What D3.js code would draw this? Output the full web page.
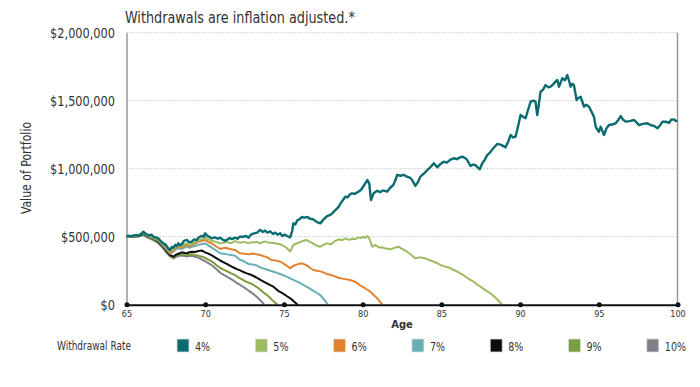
<!DOCTYPE html>
<html lang="en">
<head>
  <meta charset="UTF-8">
  <title>withdrawal rates</title>
  <script src="https://cdn.jsdelivr.net/npm/d3@7"></script>
  <style>
    body { margin: 0; background: #fff; }
    svg text { font-family: "DejaVu Sans Condensed", "DejaVu Sans", sans-serif; fill: #333; }
  </style>
</head>
<body>
  <svg id="chart"></svg>
<script>
  // portfolio values in $ thousands as [age, value]
  const rate4 = [[65,500],[65.11,507],[65.3,503],[65.45,510],[65.65,512],[65.8,505],[65.95,522],[66.07,537],[66.18,525],[66.29,518],[66.45,510],[66.6,515],[66.7,500],[66.85,495],[67.02,488],[67.15,470],[67.34,451],[67.5,440],[67.65,415],[67.77,402],[67.88,425],[67.98,419],[68.1,440],[68.2,432],[68.3,451],[68.4,438],[68.51,444],[68.65,470],[68.83,476],[69.0,458],[69.15,463],[69.3,480],[69.45,475],[69.57,493],[69.75,505],[69.9,500],[69.99,525],[70.1,510],[70.25,500],[70.42,488],[70.6,495],[70.8,485],[70.95,493],[71.1,480],[71.25,470],[71.37,476],[71.55,490],[71.7,482],[71.9,493],[72.05,485],[72.2,500],[72.43,500],[72.6,505],[72.75,493],[72.9,515],[73.1,525],[73.3,530],[73.49,550],[73.65,535],[73.8,545],[73.95,530],[74.13,540],[74.3,520],[74.45,530],[74.6,515],[74.76,525],[74.9,505],[75.05,515],[75.2,505],[75.4,495],[75.52,540],[75.6,598],[75.72,590],[75.85,620],[76.0,630],[76.15,645],[76.3,640],[76.5,645],[76.65,632],[76.87,628],[77.0,615],[77.15,605],[77.31,598],[77.5,625],[77.74,652],[77.95,660],[78.1,675],[78.27,696],[78.45,715],[78.6,745],[78.75,770],[78.9,794],[79.05,790],[79.2,812],[79.33,819],[79.5,815],[79.73,831],[79.9,845],[80.1,880],[80.3,917],[80.42,890],[80.53,770],[80.7,820],[80.92,838],[81.1,828],[81.3,840],[81.55,831],[81.75,860],[81.95,880],[82.1,920],[82.19,954],[82.4,948],[82.6,955],[82.82,941],[83.0,935],[83.14,917],[83.35,873],[83.5,900],[83.67,941],[83.9,965],[84.1,990],[84.3,1010],[84.52,1040],[84.74,1010],[84.95,1035],[85.15,1051],[85.35,1045],[85.55,1065],[85.79,1077],[86.0,1070],[86.15,1082],[86.32,1088],[86.5,1080],[86.64,1064],[86.85,1020],[87.0,1030],[87.17,1027],[87.3,1010],[87.44,996],[87.6,1040],[87.75,1065],[87.91,1100],[88.1,1120],[88.3,1150],[88.55,1182],[88.8,1175],[89.08,1157],[89.25,1200],[89.4,1248],[89.55,1230],[89.71,1235],[89.85,1300],[90.03,1395],[90.2,1380],[90.35,1371],[90.5,1430],[90.67,1493],[90.85,1500],[90.98,1493],[91.09,1395],[91.2,1480],[91.3,1566],[91.45,1580],[91.62,1615],[91.8,1598],[91.94,1603],[92.1,1620],[92.25,1640],[92.37,1652],[92.47,1603],[92.6,1640],[92.68,1665],[92.85,1650],[93.0,1689],[93.1,1650],[93.21,1603],[93.32,1625],[93.42,1615],[93.59,1505],[93.7,1520],[93.85,1529],[94.06,1456],[94.2,1470],[94.38,1456],[94.59,1407],[94.7,1380],[94.8,1309],[94.9,1290],[95.01,1272],[95.12,1309],[95.22,1280],[95.33,1248],[95.5,1300],[95.65,1321],[95.85,1325],[96.07,1334],[96.25,1360],[96.39,1387],[96.55,1360],[96.71,1346],[96.95,1350],[97.24,1358],[97.4,1340],[97.56,1321],[97.8,1330],[98.09,1334],[98.3,1320],[98.5,1315],[98.73,1297],[98.9,1320],[99.05,1346],[99.25,1345],[99.47,1338],[99.6,1360],[99.78,1363],[99.9,1350],[100,1353]];

  const rate5 = [[65,500],[65.3,503],[65.65,510],[66.07,530],[66.3,515],[66.5,505],[66.7,495],[67.0,482],[67.15,465],[67.34,445],[67.55,420],[67.77,390],[67.9,405],[68.0,410],[68.15,428],[68.3,435],[68.51,428],[68.7,445],[68.83,451],[69.0,440],[69.15,445],[69.35,460],[69.57,470],[69.8,482],[69.99,495],[70.2,480],[70.42,470],[70.7,462],[70.95,451],[71.2,458],[71.4,460],[71.65,452],[71.9,468],[72.05,460],[72.22,456],[72.5,462],[72.75,451],[72.95,460],[73.1,458],[73.3,462],[73.49,451],[73.65,460],[73.8,465],[74.0,458],[74.2,456],[74.4,452],[74.6,448],[74.8,442],[75.0,430],[75.2,415],[75.4,390],[75.59,439],[75.8,450],[76.0,460],[76.2,468],[76.4,476],[76.6,465],[76.8,455],[77.0,438],[77.15,432],[77.31,426],[77.5,440],[77.74,451],[78.0,445],[78.27,470],[78.5,480],[78.7,475],[78.9,488],[79.05,480],[79.2,478],[79.35,485],[79.5,481],[79.73,495],[79.9,490],[80.0,500],[80.12,492],[80.2,496],[80.3,505],[80.45,480],[80.6,426],[80.7,432],[80.8,440],[80.95,428],[81.12,419],[81.25,422],[81.4,415],[81.6,412],[81.76,407],[82.0,418],[82.15,422],[82.29,426],[82.5,410],[82.65,402],[82.82,390],[82.95,378],[83.1,365],[83.22,352],[83.35,341],[83.5,346],[83.7,348],[83.85,343],[83.99,341],[84.2,330],[84.41,321],[84.6,312],[84.75,305],[84.94,292],[85.2,282],[85.4,275],[85.58,268],[85.8,255],[86.0,244],[86.21,231],[86.4,218],[86.6,200],[86.85,182],[87.1,165],[87.3,146],[87.49,132],[87.7,115],[87.9,100],[88.12,84],[88.3,66],[88.5,45],[88.7,20],[88.86,0]];

  const rate6 = [[65,500],[65.3,502],[65.65,508],[66.07,528],[66.3,512],[66.5,502],[66.7,492],[67.0,478],[67.15,462],[67.34,440],[67.55,412],[67.77,380],[67.9,392],[68.0,400],[68.15,418],[68.3,425],[68.51,419],[68.7,432],[68.83,440],[69.0,430],[69.15,438],[69.35,450],[69.57,462],[69.8,470],[69.99,476],[70.2,462],[70.42,450],[70.7,428],[70.95,410],[71.2,418],[71.4,415],[71.65,408],[71.9,402],[72.05,390],[72.22,378],[72.5,375],[72.75,370],[73.0,376],[73.2,372],[73.49,365],[73.75,355],[74.0,345],[74.2,329],[74.4,326],[74.6,322],[74.8,316],[75.0,300],[75.2,285],[75.4,268],[75.55,282],[75.72,292],[75.95,300],[76.15,304],[76.35,295],[76.5,285],[76.7,268],[76.87,255],[77.1,250],[77.3,245],[77.5,238],[77.74,226],[78.0,218],[78.2,210],[78.4,200],[78.6,194],[78.9,188],[79.2,182],[79.35,176],[79.5,170],[79.7,155],[79.85,140],[80.0,132],[80.1,125],[80.3,110],[80.48,96],[80.7,72],[80.9,50],[81.05,30],[81.25,0]];

  const rate7 = [[65,500],[65.3,501],[65.65,506],[66.07,525],[66.3,508],[66.5,498],[66.7,488],[67.0,472],[67.15,455],[67.34,432],[67.55,405],[67.77,375],[67.9,384],[68.0,392],[68.15,410],[68.3,415],[68.51,410],[68.7,420],[68.83,428],[69.0,418],[69.15,425],[69.35,432],[69.57,440],[69.8,446],[69.99,451],[70.2,436],[70.42,420],[70.7,398],[70.95,378],[71.2,374],[71.4,370],[71.65,366],[71.9,360],[72.05,345],[72.2,330],[72.43,321],[72.6,310],[72.75,300],[73.0,296],[73.2,292],[73.4,280],[73.6,270],[73.8,262],[74.0,255],[74.2,248],[74.4,240],[74.6,232],[74.76,226],[75.0,215],[75.2,205],[75.4,194],[75.59,182],[75.8,172],[76.0,160],[76.2,148],[76.43,132],[76.65,118],[76.9,100],[77.1,86],[77.31,71],[77.45,52],[77.6,30],[77.8,0]];

  const rate8 = [[65,500],[65.3,500],[65.65,505],[66.07,520],[66.3,505],[66.5,495],[66.7,485],[67.0,465],[67.15,448],[67.34,425],[67.55,395],[67.77,365],[67.98,353],[68.15,368],[68.3,375],[68.51,385],[68.7,380],[68.83,378],[69.0,386],[69.15,390],[69.35,388],[69.57,395],[69.8,398],[69.99,385],[70.2,375],[70.42,362],[70.7,342],[70.95,325],[71.2,310],[71.4,298],[71.65,282],[71.9,268],[72.05,260],[72.22,252],[72.4,242],[72.6,232],[72.85,222],[73.07,211],[73.25,200],[73.4,190],[73.65,174],[73.92,157],[74.1,146],[74.3,135],[74.5,115],[74.65,100],[74.85,88],[75.0,78],[75.2,62],[75.4,47],[75.6,28],[75.87,0]];

  const rate9 = [[65,500],[65.3,498],[65.65,502],[66.07,515],[66.3,500],[66.5,490],[66.7,480],[67.0,460],[67.15,442],[67.34,420],[67.55,390],[67.77,360],[67.98,345],[68.15,358],[68.3,365],[68.51,370],[68.7,366],[68.83,362],[69.0,368],[69.15,372],[69.35,366],[69.57,360],[69.8,352],[69.99,345],[70.2,332],[70.42,318],[70.7,292],[70.95,270],[71.2,256],[71.4,245],[71.65,230],[71.9,218],[72.05,205],[72.22,194],[72.4,182],[72.6,170],[72.85,158],[73.07,145],[73.3,128],[73.5,110],[73.7,90],[73.92,71],[74.1,52],[74.25,35],[74.45,15],[74.6,0]];

  const rate10 = [[65,500],[65.3,497],[65.65,500],[66.07,512],[66.3,496],[66.5,486],[66.7,475],[67.0,455],[67.15,436],[67.34,412],[67.55,382],[67.77,353],[67.98,340],[68.15,352],[68.3,358],[68.51,362],[68.7,358],[68.83,355],[69.0,358],[69.15,360],[69.35,352],[69.57,345],[69.8,332],[69.99,320],[70.2,305],[70.42,290],[70.7,262],[70.95,235],[71.2,218],[71.4,205],[71.65,188],[71.9,169],[72.05,156],[72.22,145],[72.4,132],[72.55,120],[72.7,108],[72.85,96],[73.1,75],[73.3,55],[73.5,32],[73.75,0]];

  const seriesNames = ['4%', '5%', '6%', '7%', '8%', '9%', '10%'];
  const seriesData = [rate4, rate5, rate6, rate7, rate8, rate9, rate10];
  const colors = ['#0b6c6f', '#9dbb62', '#e2812f', '#6aaeb5', '#0d0d0d', '#7a9d3d', '#818087'];

  const yTicks = [0, 500000, 1000000, 1500000, 2000000];
  const xTicks = [65, 70, 75, 80, 85, 90, 95, 100];

  const width = 700, height = 387;
  const svg = d3.select('#chart').attr('width', width).attr('height', height);

  const x = d3.scaleLinear().domain([65, 100]).range([126.5, 677.5]);
  const y = d3.scaleLinear().domain([0, 2000000]).range([304.7, 32.7]);

  // narrow text: place at (px,py) and squeeze horizontally
  function narrowText(parent, px, py, sx, size, str) {
    return parent.append('g')
      .attr('transform', `translate(${px},${py}) scale(${sx},1)`)
      .append('text')
      .attr('font-size', size)
      .text(str);
  }

  // dotted gridlines
  svg.append('g')
    .selectAll('line')
    .data(yTicks.slice(1))
    .join('line')
    .attr('x1', x(65)).attr('x2', x(100))
    .attr('y1', d => y(d)).attr('y2', d => y(d))
    .attr('stroke', '#c8c8c8')
    .attr('stroke-width', 1)
    .attr('stroke-dasharray', '1.5,1.5');

  // left axis
  const yAxis = svg.append('g')
    .attr('transform', `translate(${x(65)},0)`)
    .call(d3.axisLeft(y).tickValues(yTicks).tickSize(0).tickPadding(0)
      .tickFormat(d => '$' + d3.format(',')(d)));
  yAxis.select('.domain').attr('stroke', '#9a9a9a').attr('stroke-width', 1.5);
  yAxis.selectAll('text')
    .attr('x', -11.5 / 0.87)
    .attr('dy', '0.36em')
    .attr('transform', 'scale(0.87,1)')
    .attr('font-size', 14.5)
    .attr('fill', '#333');

  // right border
  svg.append('line')
    .attr('x1', x(100)).attr('x2', x(100))
    .attr('y1', y(2000000)).attr('y2', y(0))
    .attr('stroke', '#9a9a9a')
    .attr('stroke-width', 1.5);

  // lines, 10% drawn first so 4% sits on top
  const line = d3.line()
    .x(d => x(d[0]))
    .y(d => y(d[1] * 1000));

  svg.append('g')
    .selectAll('path')
    .data(seriesData.map((d, i) => ({ d, i })).reverse())
    .join('path')
    .attr('d', s => line(s.d))
    .attr('fill', 'none')
    .attr('stroke', s => colors[s.i])
    .attr('stroke-width', s => s.i === 0 ? 2.4 : 2)
    .attr('stroke-linejoin', 'round');

  // bottom axis
  const xAxis = svg.append('g')
    .attr('transform', `translate(0,${y(0)})`)
    .call(d3.axisBottom(x).tickValues(xTicks).tickSize(0).tickPadding(6));
  xAxis.select('.domain').attr('stroke', '#111').attr('stroke-width', 2);
  xAxis.selectAll('text').attr('font-size', 9).attr('fill', '#444');
  xAxis.selectAll('.tick').append('circle')
    .attr('r', 2.5)
    .attr('fill', '#111');

  // titles
  narrowText(svg, 125, 23, 0.92, 15.5, 'Withdrawals are inflation adjusted.*');

  svg.append('g')
    .attr('transform', 'translate(31,168) rotate(-90) scale(0.9,1)')
    .append('text')
    .attr('text-anchor', 'middle')
    .attr('font-size', 13.5)
    .text('Value of Portfolio');

  svg.append('text')
    .attr('x', 402).attr('y', 328)
    .attr('text-anchor', 'middle')
    .attr('font-size', 10)
    .attr('font-weight', 'bold')
    .style('font-family', '"DejaVu Sans", sans-serif')
    .text('Age');

  // legend
  narrowText(svg, 57, 350, 0.8, 12.5, 'Withdrawal Rate');

  const legend = svg.append('g')
    .selectAll('g')
    .data(seriesNames)
    .join('g')
    .attr('transform', (d, i) => `translate(${177 + i * 78.3},339)`);
  legend.append('rect')
    .attr('width', 12).attr('height', 13)
    .attr('fill', (d, i) => colors[i])
    .attr('stroke', '#ddd')
    .attr('stroke-width', 0.8);
  legend.each(function (d) {
    narrowText(d3.select(this), 18, 11.5, 0.85, 12.5, d);
  });
</script>
</body>
</html>
